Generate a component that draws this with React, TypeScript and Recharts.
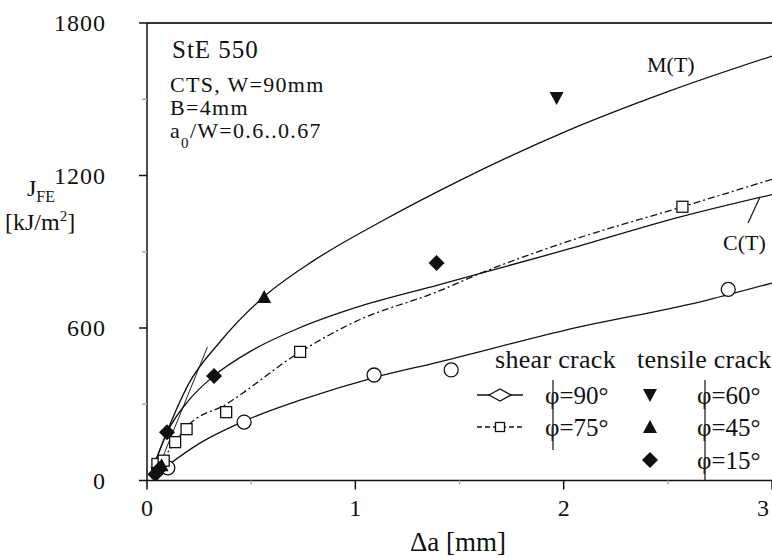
import React from 'react';
import { ComposedChart, Line, Scatter, XAxis, YAxis, ReferenceLine } from 'recharts';

const W = 772;
const H = 558;
const SERIF = '"Liberation Serif", "Times New Roman", serif';

// fitted curves (x = crack growth Δa in mm, y = J_FE in kJ/m²)
const curveMT = [
  { x: 0.02, y: 30 }, { x: 0.1, y: 200 }, { x: 0.2, y: 380 }, { x: 0.35, y: 545 },
  { x: 0.56, y: 722 }, { x: 0.8, y: 865 }, { x: 1.115, y: 1015 }, { x: 1.5, y: 1180 },
  { x: 2.0, y: 1370 }, { x: 2.5, y: 1530 }, { x: 3.0, y: 1670 },
];
const curveCT = [
  { x: 0.02, y: 30 }, { x: 0.1, y: 195 }, { x: 0.2, y: 315 }, { x: 0.32, y: 411 },
  { x: 0.5, y: 510 }, { x: 0.73, y: 600 }, { x: 1.0, y: 680 }, { x: 1.4, y: 770 },
  { x: 1.6, y: 815 }, { x: 2.0, y: 905 }, { x: 2.56, y: 1037 }, { x: 3.0, y: 1125 },
];
const curve90 = [
  { x: 0.02, y: 10 }, { x: 0.1, y: 60 }, { x: 0.25, y: 145 }, { x: 0.47, y: 235 },
  { x: 0.75, y: 320 }, { x: 1.09, y: 405 }, { x: 1.4, y: 466 }, { x: 2.0, y: 590 },
  { x: 2.69, y: 710 }, { x: 3.0, y: 777 },
];
const curve75 = [
  { x: 0.03, y: 30 }, { x: 0.07, y: 77 }, { x: 0.135, y: 150 }, { x: 0.19, y: 210 },
  { x: 0.38, y: 300 }, { x: 0.735, y: 506 }, { x: 1.0, y: 625 }, { x: 1.4, y: 745 },
  { x: 1.6, y: 815 }, { x: 2.0, y: 935 }, { x: 2.57, y: 1077 }, { x: 3.0, y: 1185 },
];
const blunting = [{ x: 0.03, y: 0 }, { x: 0.29, y: 525 }];

// measured points
const shear90 = [
  { x: 0.1, y: 50 }, { x: 0.466, y: 230 }, { x: 1.09, y: 415 }, { x: 1.46, y: 435 }, { x: 2.79, y: 752 },
];
const shear75 = [
  { x: 0.05, y: 65 }, { x: 0.08, y: 78 }, { x: 0.135, y: 151 }, { x: 0.19, y: 202 },
  { x: 0.38, y: 269 }, { x: 0.735, y: 506 }, { x: 2.57, y: 1077 },
];
const tensile60 = [{ x: 0.05, y: 30 }, { x: 1.966, y: 1505 }];
const tensile45 = [{ x: 0.07, y: 60 }, { x: 0.5625, y: 722 }];
const tensile15 = [
  { x: 0.04, y: 25 }, { x: 0.06, y: 45 }, { x: 0.096, y: 190 }, { x: 0.322, y: 411 }, { x: 1.39, y: 856 },
];

const xTicks = [0, 0.5, 1, 1.5, 2, 2.5, 3];
const yTicks = [0, 300, 600, 900, 1200, 1500, 1800];

const openCircle = (p: any) => <circle cx={p.cx} cy={p.cy} r={7} fill="#fff" stroke="#111" strokeWidth={1.3} />;
const openSquare = (p: any) => <rect x={p.cx - 5.5} y={p.cy - 5.5} width={11} height={11} fill="#fff" stroke="#111" strokeWidth={1.3} />;
const triDown = (p: any) => <polygon points={`${p.cx - 7},${p.cy - 6} ${p.cx + 7},${p.cy - 6} ${p.cx},${p.cy + 7}`} fill="#111" />;
const triUp = (p: any) => <polygon points={`${p.cx - 7},${p.cy + 6} ${p.cx + 7},${p.cy + 6} ${p.cx},${p.cy - 7}`} fill="#111" />;
const diamond = (p: any) => <polygon points={`${p.cx - 8},${p.cy} ${p.cx},${p.cy - 8} ${p.cx + 8},${p.cy} ${p.cx},${p.cy + 8}`} fill="#111" />;

const XTick = (p: any) => {
  const { x, y, payload } = p;
  const v = payload.value;
  const major = v % 1 === 0;
  return (
    <g>
      <line x1={x} x2={x} y1={y} y2={y + (major ? 9 : 4)} stroke={major ? '#111' : '#aaa'} strokeWidth={1.5} />
      {major && (
        <text x={v === 3 ? x - 9 : x} y={y + 35} textAnchor="middle" fontSize={24} fontFamily={SERIF} fill="#111">{v}</text>
      )}
    </g>
  );
};

const YTick = (p: any) => {
  const { x, y, payload } = p;
  const v = payload.value;
  const major = v % 600 === 0;
  return (
    <g>
      <line x1={x - (major ? 8 : 5)} x2={x} y1={y} y2={y} stroke={major ? '#111' : '#aaa'} strokeWidth={1.5} />
      {major && (
        <text x={x - 41} y={y + 8} textAnchor="end" fontSize={24} fontFamily={SERIF} fill="#111" letterSpacing={1}>{v}</text>
      )}
    </g>
  );
};

export default function App() {
  const t = { fontFamily: SERIF, fill: '#111' };
  return (
    <div style={{ position: 'absolute', left: 0, top: 0, width: W, height: H, background: '#fff', overflow: 'hidden' }}>
      <ComposedChart width={W} height={H} margin={{ top: 23, right: 0, bottom: 17.5, left: 47 }}>
        <XAxis
          type="number" dataKey="x" domain={[0, 3]} ticks={xTicks} interval={0} height={60}
          tickSize={0} tickMargin={0} tick={<XTick />} axisLine={{ stroke: '#111', strokeWidth: 1.5 }}
          allowDataOverflow
        />
        <YAxis
          type="number" dataKey="y" domain={[0, 1800]} ticks={yTicks} interval={0} width={100}
          tickSize={0} tickMargin={0} tick={<YTick />} axisLine={{ stroke: '#111', strokeWidth: 1.5 }}
          allowDataOverflow
        />
        <ReferenceLine y={1800} stroke="#333" strokeWidth={2} />
        <Line data={blunting} dataKey="y" type="linear" stroke="#222" strokeWidth={1} dot={false} isAnimationActive={false} />
        <Line data={curveMT} dataKey="y" type="monotone" stroke="#111" strokeWidth={1.3} dot={false} isAnimationActive={false} />
        <Line data={curveCT} dataKey="y" type="monotone" stroke="#111" strokeWidth={1.3} dot={false} isAnimationActive={false} />
        <Line data={curve90} dataKey="y" type="monotone" stroke="#111" strokeWidth={1.3} dot={false} isAnimationActive={false} />
        <Line data={curve75} dataKey="y" type="monotone" stroke="#111" strokeWidth={1.3} strokeDasharray="7 3 2 3" dot={false} isAnimationActive={false} />
        <Scatter data={shear90} dataKey="y" shape={openCircle} isAnimationActive={false} />
        <Scatter data={shear75} dataKey="y" shape={openSquare} isAnimationActive={false} />
        <Scatter data={tensile60} dataKey="y" shape={triDown} isAnimationActive={false} />
        <Scatter data={tensile45} dataKey="y" shape={triUp} isAnimationActive={false} />
        <Scatter data={tensile15} dataKey="y" shape={diamond} isAnimationActive={false} />
      </ComposedChart>

      <svg width={W} height={H} style={{ position: 'absolute', left: 0, top: 0, pointerEvents: 'none' }}>
        {/* material info */}
        <text x={172} y={58} fontSize={25} letterSpacing={1} {...t}>StE 550</text>
        <text x={170} y={92} fontSize={22} letterSpacing={1.3} {...t}>CTS, W=90mm</text>
        <text x={170} y={115} fontSize={22} letterSpacing={1.3} {...t}>B=4mm</text>
        <text x={170} y={138} fontSize={22} letterSpacing={1.3} {...t}>a<tspan fontSize={15} dy={10}>0</tspan><tspan dy={-10}>/W=0.6..0.67</tspan></text>

        {/* curve labels */}
        <text x={647} y={72} fontSize={22} {...t}>M(T)</text>
        <text x={723} y={250} fontSize={22} {...t}>C(T)</text>
        <line x1={760} y1={197} x2={748} y2={223} stroke="#111" strokeWidth={1.2} />

        {/* axis titles */}
        <text x={27} y={196} fontSize={24} {...t}>J<tspan fontSize={16} dy={6}>FE</tspan></text>
        <text x={5} y={230} fontSize={24} {...t}>[kJ/m<tspan fontSize={15} dy={-9}>2</tspan><tspan dy={9}>]</tspan></text>
        <text x={410} y={551} fontSize={27} {...t}>Δa [mm]</text>

        {/* legend */}
        <text x={495} y={368} fontSize={26} letterSpacing={0.3} {...t}>shear crack</text>
        <text x={637} y={368} fontSize={26} letterSpacing={0.3} {...t}>tensile crack</text>
        <line x1={477} x2={523} y1={395} y2={395} stroke="#111" strokeWidth={1.3} />
        <polygon points="489,395 500,389 511,395 500,401" fill="#fff" stroke="#111" strokeWidth={1.3} />
        <line x1={477} x2={523} y1={427} y2={427} stroke="#111" strokeWidth={1.3} strokeDasharray="5 3" />
        <rect x={495.5} y={422.5} width={9} height={9} fill="#fff" stroke="#111" strokeWidth={1.3} />
        <line x1={553} x2={553} y1={380} y2={450} stroke="#111" strokeWidth={1.2} />
        <line x1={705} x2={705} y1={380} y2={480} stroke="#111" strokeWidth={1.2} />
        <text x={545} y={404} fontSize={25} {...t}>φ=90°</text>
        <text x={545} y={436} fontSize={25} {...t}>φ=75°</text>
        {triDown({ cx: 650, cy: 395 })}
        {triUp({ cx: 650, cy: 427 })}
        {diamond({ cx: 650, cy: 460 })}
        <text x={697} y={404} fontSize={25} {...t}>φ=60°</text>
        <text x={697} y={436} fontSize={25} {...t}>φ=45°</text>
        <text x={697} y={469} fontSize={25} {...t}>φ=15°</text>
      </svg>
    </div>
  );
}
